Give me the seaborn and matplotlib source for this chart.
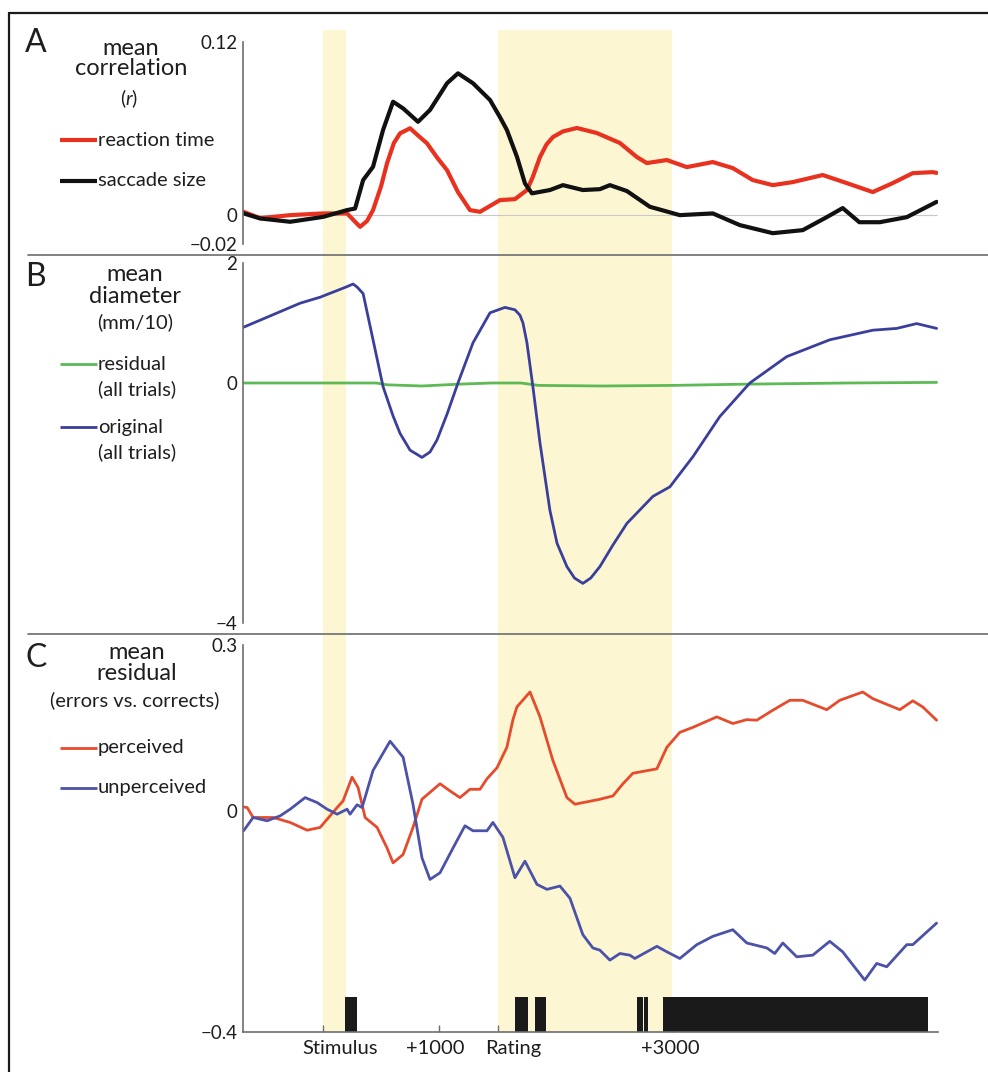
import matplotlib
matplotlib.use("Agg")
import matplotlib.pyplot as plt
import matplotlib.transforms as mtransforms
import seaborn as sns
from matplotlib.lines import Line2D

# time axis is ms relative to stimulus onset
x_limits = (-685, 5280)
band_start = [0, 1500]
band_end = [200, 3000]
tick_pos = [0, 1000, 1500, 3000]
tick_labels = ["Stimulus", "+1000", "Rating", "+3000"]

# panel A: mean correlation (r)
a_rt_t = [-680, -538, -280, 3, 208, 270, 320, 380, 431, 500, 551, 610, 663,
          749, 820, 894, 980, 1066, 1160, 1263, 1349, 1520, 1649, 1752, 1800,
          1864, 1920, 1975, 2060, 2181, 2352, 2550, 2695, 2781, 2953, 3124,
          3347, 3519, 3690, 3862, 4033, 4291, 4497, 4720, 4891, 5063, 5234,
          5268]
a_rt_v = [0.0023, -0.0021, 0.0, 0.0012, 0.0012, -0.004, -0.0081, -0.004,
          0.0035, 0.020, 0.0359, 0.050, 0.0567, 0.0602, 0.055, 0.0498, 0.040,
          0.0312, 0.016, 0.0035, 0.0023, 0.0104, 0.0111, 0.0174, 0.026,
          0.0403, 0.049, 0.0541, 0.058, 0.0604, 0.0569, 0.0500, 0.0403,
          0.0361, 0.0382, 0.0333, 0.0368, 0.0326, 0.0243, 0.0208, 0.0229,
          0.0278, 0.0222, 0.0160, 0.0222, 0.0291, 0.0298, 0.0293]
a_sac_t = [-680, -538, -280, 3, 208, 277, 346, 431, 517, 603, 689, 817, 920,
           1000, 1066, 1160, 1289, 1435, 1520, 1580, 1666, 1735, 1795, 1949,
           2061, 2232, 2378, 2464, 2610, 2807, 3064, 3347, 3579, 3862, 4119,
           4325, 4462, 4605, 4780, 5012, 5268]
a_sac_v = [0.0012, -0.0023, -0.0046, -0.0012, 0.0035, 0.0046, 0.0243, 0.0335,
           0.0590, 0.0786, 0.0740, 0.0647, 0.0729, 0.083, 0.0914, 0.0983,
           0.0914, 0.0798, 0.0680, 0.0590, 0.0405, 0.0220, 0.0151, 0.0174,
           0.0208, 0.0174, 0.0180, 0.0208, 0.0167, 0.0058, 0.0, 0.0012,
           -0.0069, -0.0125, -0.0104, -0.0014, 0.0049, -0.0049, -0.0049,
           -0.0014, 0.0092]

# panel B: mean diameter (mm/10)
b_orig_t = [-680, -195, -23, 200, 260, 294, 346, 431, 517, 603, 663, 749, 851,
            920, 980, 1066, 1160, 1289, 1435, 1563, 1649, 1692, 1718, 1752,
            1803, 1864, 1949, 2010, 2095, 2160, 2232, 2300, 2378, 2490, 2610,
            2833, 2979, 3176, 3407, 3665, 3982, 4351, 4720, 4926, 5097, 5268]
b_orig_v = [0.93, 1.33, 1.43, 1.60, 1.65, 1.60, 1.49, 0.72, -0.06, -0.55,
            -0.84, -1.12, -1.24, -1.15, -0.95, -0.52, 0.0, 0.67, 1.17, 1.26,
            1.22, 1.13, 1.0, 0.67, -0.06, -1.0, -2.12, -2.67, -3.06, -3.25,
            -3.34, -3.25, -3.06, -2.7, -2.34, -1.89, -1.73, -1.23, -0.56, 0.0,
            0.44, 0.72, 0.88, 0.91, 0.99, 0.91]
b_resid_t = [-680, 460, 550, 850, 1160, 1450, 1700, 1850, 2400, 3000, 3600,
             4500, 5268]
b_resid_v = [0.0, 0.0, -0.03, -0.05, -0.02, 0.0, 0.0, -0.04, -0.05, -0.04,
             -0.02, 0.0, 0.01]

# panel C: mean residual (errors vs. corrects)
c_perc_t = [-680, -649, -598, -426, -280, -135, -23, 123, 174, 251, 303, 363,
            466, 551, 603, 689, 774, 851, 1006, 1092, 1177, 1263, 1349, 1409,
            1495, 1580, 1632, 1666, 1778, 1864, 1975, 2095, 2164, 2378, 2490,
            2576, 2661, 2867, 2953, 3064, 3176, 3381, 3519, 3639, 3725, 3862,
            4008, 4119, 4325, 4437, 4634, 4720, 4952, 5064, 5149, 5268]
c_perc_v = [0.007, 0.006, -0.012, -0.012, -0.021, -0.035, -0.030, 0.006,
            0.018, 0.061, 0.042, -0.012, -0.030, -0.067, -0.094, -0.079,
            -0.030, 0.021, 0.049, 0.036, 0.024, 0.039, 0.039, 0.058, 0.078,
            0.115, 0.165, 0.188, 0.215, 0.170, 0.091, 0.024, 0.012, 0.021,
            0.027, 0.049, 0.068, 0.076, 0.115, 0.142, 0.151, 0.170, 0.158,
            0.165, 0.164, 0.182, 0.200, 0.200, 0.183, 0.200, 0.215, 0.203,
            0.183, 0.199, 0.188, 0.164]
c_unperc_t = [-680, -598, -478, -366, -280, -152, -49, 37, 123, 208, 234, 294,
              337, 431, 577, 689, 774, 851, 920, 1006, 1118, 1220, 1289, 1409,
              1460, 1546, 1649, 1735, 1838, 1924, 2035, 2121, 2232, 2318,
              2378, 2464, 2550, 2635, 2678, 2781, 2867, 2953, 3064, 3210,
              3347, 3519, 3639, 3811, 3879, 3948, 4068, 4205, 4351, 4462,
              4651, 4754, 4840, 5012, 5064, 5268]
c_unperc_v = [-0.036, -0.012, -0.018, -0.009, 0.003, 0.024, 0.015, 0.003,
              -0.006, 0.003, -0.006, 0.011, 0.006, 0.073, 0.126, 0.097, 0.012,
              -0.085, -0.124, -0.112, -0.067, -0.027, -0.036, -0.036, -0.021,
              -0.048, -0.121, -0.091, -0.133, -0.142, -0.136, -0.158, -0.224,
              -0.248, -0.252, -0.270, -0.258, -0.261, -0.267, -0.255, -0.245,
              -0.255, -0.267, -0.242, -0.227, -0.215, -0.239, -0.248, -0.258,
              -0.239, -0.264, -0.261, -0.236, -0.255, -0.306, -0.276, -0.282,
              -0.242, -0.242, -0.203]
sig_start = [190, 1650, 1820, 2700, 2758, 2920]
sig_end = [295, 1760, 1915, 2744, 2787, 5190]

RED = "#e8321f"
RED_C = "#e54b2c"
BLUE = "#3a3f9c"
BLUE_C = "#4b52a8"
GREEN = "#5dba55"
YELLOW = "#fcf7d2"
GRAY = "#6e6e6e"
INK = "#1e1e1e"

sns.set_theme(style="white")
plt.rcParams["font.family"] = ["Lato", "DejaVu Sans"]
plt.rcParams["mathtext.fontset"] = "custom"
plt.rcParams["mathtext.it"] = "Lato:italic"
plt.rcParams["mathtext.rm"] = "Lato"
plt.rcParams["lines.solid_joinstyle"] = "round"
plt.rcParams["lines.solid_capstyle"] = "round"

W, H = 988, 1072
fig = plt.figure(figsize=(W / 100, H / 100), dpi=100)
fig.patch.set_facecolor("white")


def px_axes(x0, y0, x1, y1, **kw):
    return fig.add_axes([x0 / W, 1 - y1 / H, (x1 - x0) / W, (y1 - y0) / H], **kw)


def fx(x):
    return x / W


def fy(y):
    return 1 - y / H


# shaded windows behind all three panels
bg = px_axes(243, 30, 938, 1032)
bg.set_xlim(*x_limits)
bg.axis("off")
for s, e in zip(band_start, band_end):
    bg.axvspan(s, e, color=YELLOW, lw=0, zorder=0)

ax_a = px_axes(243, 42, 938, 244)
ax_b = px_axes(243, 263, 938, 623)
ax_c = px_axes(243, 645, 938, 1032)

for ax in (ax_a, ax_b, ax_c):
    ax.set_facecolor("none")
    ax.set_xlim(*x_limits)
    sns.despine(ax=ax, top=True, right=True, bottom=(ax is not ax_c))
    ax.spines["left"].set_color(GRAY)
    ax.spines["left"].set_linewidth(1.2)
    ax.tick_params(axis="y", direction="in", length=5, width=1, color=GRAY,
                   labelsize=13.5, pad=4, labelcolor=INK)

# A
ax_a.hlines(0, a_rt_t[0], a_rt_t[-1], color="#c8c8c8", lw=0.8, zorder=1)
sns.lineplot(x=a_rt_t, y=a_rt_v, ax=ax_a, color=RED, lw=3, legend=False)
sns.lineplot(x=a_sac_t, y=a_sac_v, ax=ax_a, color="#111111", lw=3, legend=False)
ax_a.set_ylim(-0.02, 0.12)
ax_a.set_yticks([-0.02, 0, 0.12])
ax_a.set_yticklabels(["\u22120.02", "0", "0.12"])
ax_a.set_xticks([])

# B
sns.lineplot(x=b_resid_t, y=b_resid_v, ax=ax_b, color=GREEN, lw=2, legend=False)
sns.lineplot(x=b_orig_t, y=b_orig_v, ax=ax_b, color=BLUE, lw=2, legend=False)
ax_b.set_ylim(-4, 2)
ax_b.set_yticks([-4, 0, 2])
ax_b.set_yticklabels(["\u22124", "0", "2"])
ax_b.set_xticks([])

# C
ax_c.bar(sig_start, [0.064] * len(sig_start),
         width=[e - s for s, e in zip(sig_start, sig_end)],
         bottom=-0.4, align="edge", color="#1a1a1a", lw=0, zorder=2)
sns.lineplot(x=c_perc_t, y=c_perc_v, ax=ax_c, color=RED_C, lw=2, legend=False)
sns.lineplot(x=c_unperc_t, y=c_unperc_v, ax=ax_c, color=BLUE_C, lw=2,
             legend=False)
ax_c.set_ylim(-0.4, 0.3)
ax_c.set_yticks([-0.4, 0, 0.3])
ax_c.set_yticklabels(["\u22120.4", "0", "0.3"])
ax_c.spines["bottom"].set_color(GRAY)
ax_c.spines["bottom"].set_linewidth(1.2)
ax_c.set_xticks(tick_pos)
ax_c.set_xticklabels(tick_labels)
ax_c.tick_params(axis="x", direction="in", length=5, width=1, color=GRAY,
                 labelsize=14.5, pad=6, labelcolor=INK, bottom=True)
# labels in the original sit a little off their ticks
label_shift_px = [17, -4, 16, -2]
for lab, dx in zip(ax_c.get_xticklabels(), label_shift_px):
    lab.set_transform(lab.get_transform() + mtransforms.ScaledTranslation(
        dx / 100, 0, fig.dpi_scale_trans))

for ax in (ax_a, ax_b, ax_c):
    ax.set_xlabel("")
    ax.set_ylabel("")

# frame and panel separators
fig.add_artist(Line2D([fx(9), 1], [fy(13), fy(13)], color="#1a1a1a", lw=1.6))
fig.add_artist(Line2D([fx(9), fx(9)], [fy(13), 0], color="#1a1a1a", lw=1.6))
for ysep in (255, 634):
    fig.add_artist(Line2D([fx(28), 1], [fy(ysep), fy(ysep)], color="#777777",
                          lw=1.3))

# panel letters
for letter, yl in (("A", 43), ("B", 277), ("C", 658)):
    fig.text(fx(25), fy(yl), letter, fontsize=23, color=INK,
             ha="left", va="center")

# y labels
hdr = dict(fontsize=17, color=INK, ha="center", va="baseline")
fig.text(fx(131), fy(55), "mean", **hdr)
fig.text(fx(131), fy(75), "correlation", **hdr)
fig.text(fx(129), fy(99), r"($\mathit{r}$)", fontsize=14, color=INK,
         ha="center", va="center")
fig.text(fx(135), fy(281), "mean", **hdr)
fig.text(fx(135), fy(303), "diameter", **hdr)
fig.text(fx(135), fy(322), "(mm/10)", fontsize=14.5, color=INK,
         ha="center", va="center")
fig.text(fx(137), fy(659), "mean", **hdr)
fig.text(fx(137), fy(680), "residual", **hdr)
fig.text(fx(135), fy(700), "(errors vs. corrects)", fontsize=14.5,
         color=INK, ha="center", va="center")

# legend entries
legend_items = [
    (140, RED, 3, ["reaction time"]),
    (181, "#111111", 3, ["saccade size"]),
    (364, GREEN, 2, ["residual", "(all trials)"]),
    (427, BLUE, 2, ["original", "(all trials)"]),
    (748, RED_C, 2, ["perceived"]),
    (788, BLUE_C, 2, ["unperceived"]),
]
for yl, col, lw, lines in legend_items:
    fig.add_artist(Line2D([fx(60), fx(97)], [fy(yl), fy(yl)], color=col,
                          lw=lw, solid_capstyle="butt"))
    for i, txt in enumerate(lines):
        fig.text(fx(98), fy(yl + i * 25), txt, fontsize=14.5, color=INK,
                 ha="left", va="center")

fig.savefig("out.png", dpi=100, facecolor="white")
